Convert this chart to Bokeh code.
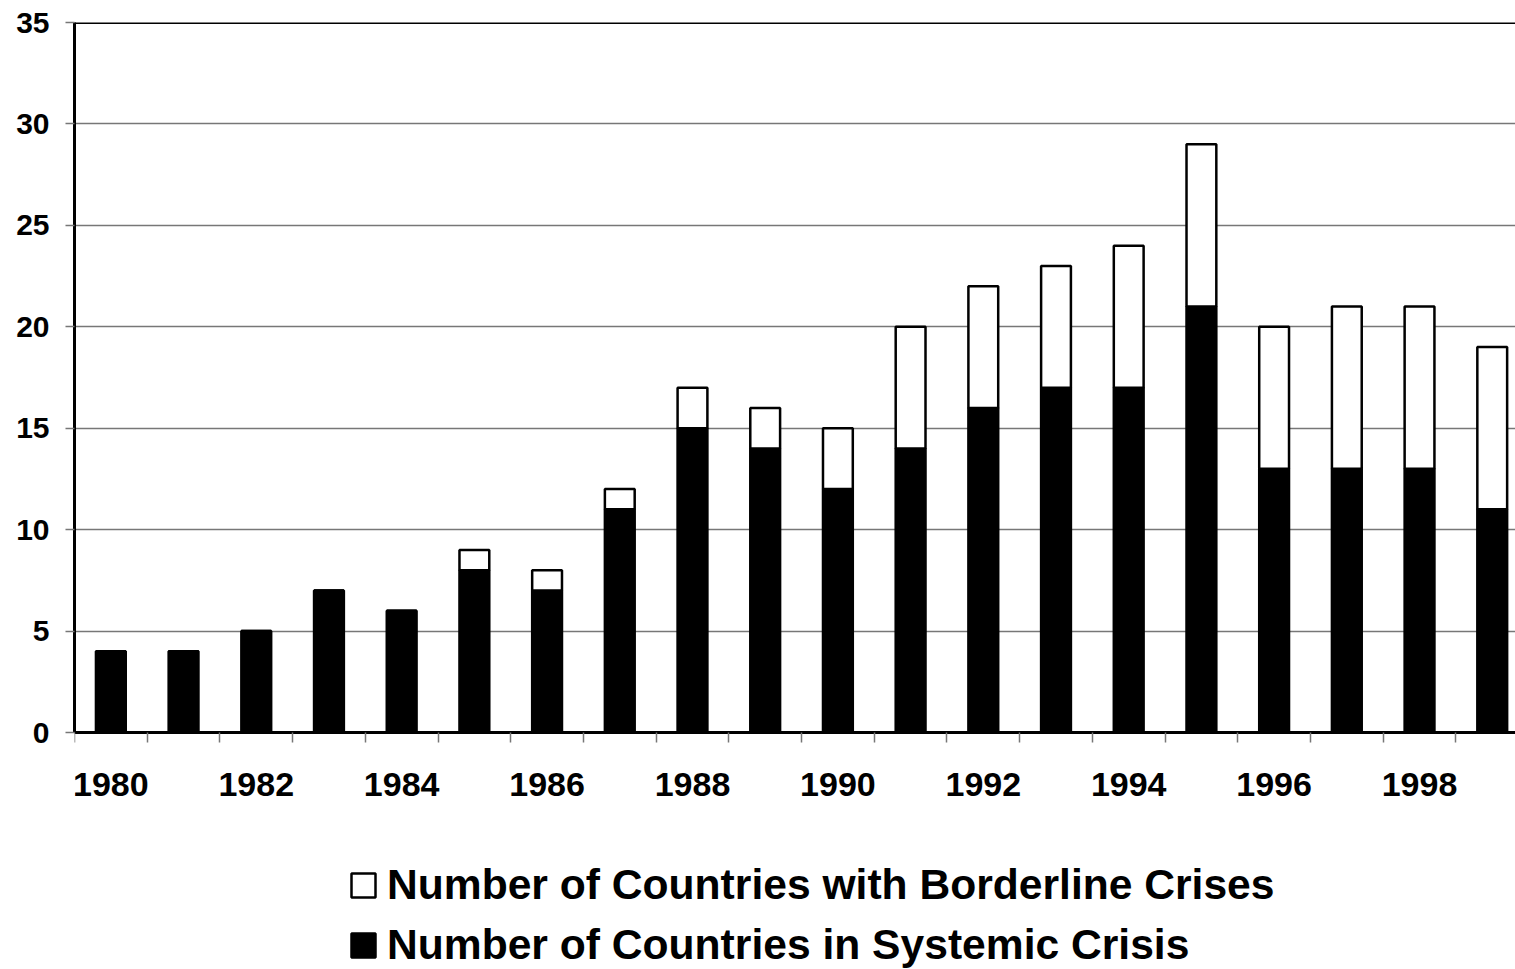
from bokeh.plotting import figure
from bokeh.models import Range1d, FixedTicker, Span, Legend, LegendItem, ColumnDataSource
from bokeh.embed import file_html
from bokeh.resources import INLINE

years = [1980, 1981, 1982, 1983, 1984, 1985, 1986, 1987, 1988, 1989,
         1990, 1991, 1992, 1993, 1994, 1995, 1996, 1997, 1998, 1999]
systemic = [4, 4, 5, 7, 6, 8, 7, 11, 15, 14, 12, 14, 16, 17, 17, 21, 13, 13, 13, 11]
borderline = [0, 0, 0, 0, 0, 1, 1, 1, 2, 2, 3, 6, 6, 6, 7, 8, 7, 8, 8, 8]
label_years = [1980, 1982, 1984, 1986, 1988, 1990, 1992, 1994, 1996, 1998]
y_ticks = [0, 5, 10, 15, 20, 25, 30, 35]
series_names = ["Number of Countries in Systemic Crisis",
                "Number of Countries with Borderline Crises"]

FONT = "Liberation Sans"

source = ColumnDataSource(dict(year=years, systemic=systemic, borderline=borderline))

# frame spans from the top of the plot area to the bottom of the page; the
# region below zero holds the year labels and the legend
p = figure(width=1515, height=969, output_backend="svg", toolbar_location=None,
           x_range=Range1d(1979.5, 1999.32), y_range=Range1d(-11.683, 35),
           min_border_left=74, min_border_right=0, min_border_top=22,
           min_border_bottom=0)
p.outline_line_color = None
p.background_fill_color = "white"
p.border_fill_color = "white"

rs = p.vbar_stack(["systemic", "borderline"], x="year", width=0.41, source=source,
                  fill_color=["black", "white"], line_color="black", line_width=2.5)

top = Span(location=35, dimension="width", line_color="black", line_width=3)
p.add_layout(top)

# grid
p.xgrid.visible = False
p.ygrid.grid_line_color = "#777777"
p.ygrid.grid_line_width = 1.5
p.ygrid.ticker = FixedTicker(ticks=y_ticks)

# y axis
p.yaxis.ticker = FixedTicker(ticks=y_ticks)
p.yaxis.bounds = (0, 35)
p.yaxis.axis_line_color = "black"
p.yaxis.axis_line_width = 3
p.yaxis.major_tick_out = 9
p.yaxis.major_tick_in = 0
p.yaxis.major_tick_line_color = "#777777"
p.yaxis.major_tick_line_width = 1.5
p.yaxis.minor_tick_line_color = None
p.yaxis.major_label_standoff = 16
p.yaxis.major_label_text_font = FONT
p.yaxis.major_label_text_font_style = "bold"
p.yaxis.major_label_text_font_size = "30px"
p.yaxis.major_label_text_color = "black"

# x axis, pinned at y = 0
minor = [y - 0.5 for y in years] + [years[-1] + 0.5]
p.xaxis.fixed_location = 0
p.xaxis.ticker = FixedTicker(ticks=label_years, minor_ticks=minor)
p.xaxis.axis_line_color = "black"
p.xaxis.axis_line_width = 3
p.xaxis.major_tick_out = 0
p.xaxis.major_tick_in = 0
p.xaxis.major_tick_line_color = None
p.xaxis.minor_tick_out = 10
p.xaxis.minor_tick_in = 0
p.xaxis.minor_tick_line_color = "#777777"
p.xaxis.minor_tick_line_width = 1.5
p.xaxis.major_label_standoff = 30
p.xaxis.major_label_text_font = FONT
p.xaxis.major_label_text_font_style = "bold"
p.xaxis.major_label_text_font_size = "34px"
p.xaxis.major_label_text_color = "black"

legend = Legend(items=[LegendItem(label=series_names[1], renderers=[rs[1]]),
                       LegendItem(label=series_names[0], renderers=[rs[0]])],
                location=(274, 0), padding=0, margin=0, spacing=11,
                glyph_width=30, glyph_height=30, label_standoff=9,
                label_text_font=FONT, label_text_font_style="bold",
                label_text_font_size="42.6px", label_text_color="black",
                border_line_color=None, background_fill_alpha=0)
p.add_layout(legend, "center")

open("out.html", "w").write(file_html(p, INLINE))
